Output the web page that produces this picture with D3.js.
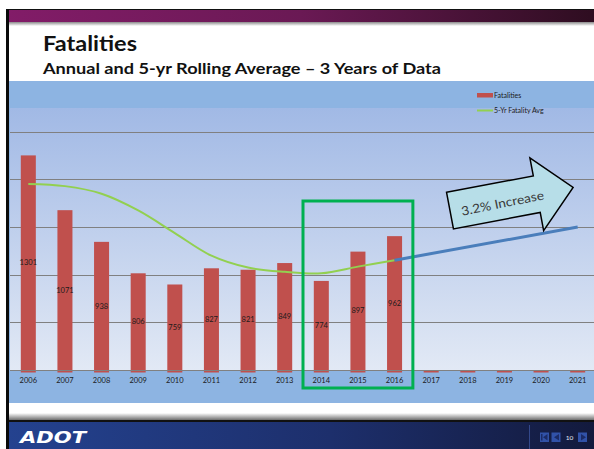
<!DOCTYPE html>
<html><head><meta charset="utf-8">
<script src="https://cdn.jsdelivr.net/npm/d3@7/dist/d3.min.js"></script>
<style>html,body{margin:0;padding:0;background:#fff;}svg{display:block;}</style>
</head><body>
<script>
const years = ['2006','2007','2008','2009','2010','2011','2012','2013','2014','2015','2016','2017','2018','2019','2020','2021'];
const fatalities = [1301,1071,938,806,759,827,821,849,774,897,962,0,0,0,0,0];
const avgYears = ['2006','2007','2008','2009','2010','2011','2012','2013','2014','2015','2016'];
const rollingAvg = [1181,1172,1140,1070,975,880,830,812,806,834,861];
const trendYears = ['2016','2021'];
const trendValues = [861,1000];
const yTicks = [600,800,1000,1200,1400];
const highlightYears = ['2014','2016'];
const legendLabels = ['Fatalities','5-Yr Fatality Avg'];
const titleText = 'Fatalities';
const subtitleText = 'Annual and 5-yr Rolling Average \u2013 3 Years of Data';
const arrowText = '3.2% Increase';

const W = 594, H = 449;
const svg = d3.select('body').append('svg').attr('width', W).attr('height', H);
const defs = svg.append('defs');

function lg(id, x1, y1, x2, y2, stops){
  const g = defs.append('linearGradient').attr('id', id)
    .attr('x1', x1).attr('y1', y1).attr('x2', x2).attr('y2', y2);
  stops.forEach(s => g.append('stop').attr('offset', s[0]).attr('stop-color', s[1]));
}
lg('purple','0','0','1','0',[[0,'#821c68'],[0.5,'#6a1954'],[1,'#2e0d20']]);
lg('topShadow','0','0','0','1',[[0,'#8a8a8a'],[1,'#ffffff']]);
lg('plotGrad','0','0','0','1',[[0,'#a1b9e5'],[1,'#e2e9f5']]);
lg('botShadow','0','0','0','1',[[0,'#ffffff'],[1,'#6e6e6e']]);
lg('footer','0','0','1','0',[[0,'#24428f'],[0.55,'#1d2f6c'],[1,'#131a3d']]);

// Slide frame
svg.append('rect').attr('x',6).attr('y',9).attr('width',W-6).attr('height',1.5).attr('fill','#111');
svg.append('rect').attr('x',8).attr('y',10).attr('width',W-8).attr('height',12).attr('fill','url(#purple)');
svg.append('rect').attr('x',8).attr('y',22).attr('width',W-8).attr('height',4).attr('fill','url(#topShadow)');
svg.append('rect').attr('x',9).attr('y',413).attr('width',W-9).attr('height',7).attr('fill','url(#botShadow)');
svg.append('rect').attr('x',6).attr('y',420).attr('width',W-6).attr('height',2).attr('fill','#111');
svg.append('rect').attr('x',8).attr('y',422).attr('width',W-8).attr('height',H-422).attr('fill','url(#footer)');
svg.append('rect').attr('x',6).attr('y',9).attr('width',3).attr('height',H-9).attr('fill','#0a0a0a');

// Titles
svg.append('text').attr('x',43).attr('y',51).text(titleText)
  .attr('font-family','Lato, "Open Sans", sans-serif').attr('font-weight','bold')
  .attr('font-size',20.5).attr('fill','#111').attr('textLength',94).attr('lengthAdjust','spacingAndGlyphs');
svg.append('text').attr('x',43).attr('y',74).text(subtitleText)
  .attr('font-family','Lato, "Open Sans", sans-serif').attr('font-weight','bold')
  .attr('font-size',15).attr('fill','#111').attr('textLength',398).attr('lengthAdjust','spacingAndGlyphs');

// Chart area
svg.append('rect').attr('x',9).attr('y',81).attr('width',W-9).attr('height',322).attr('fill','#8db4e2');

const plotTop = 108, plotBottom = 370;
const x = d3.scaleBand().domain(years).range([10,596]).paddingInner(0.59).paddingOuter(0.295);
const y = d3.scaleLinear().domain([400,1500]).range([plotBottom, plotTop]).clamp(true);
const cx = d => x(d) + x.bandwidth()/2;

svg.append('rect').attr('x',10).attr('y',plotTop).attr('width',W-10).attr('height',plotBottom-plotTop).attr('fill','url(#plotGrad)');

// gridlines
svg.append('g').selectAll('line').data(yTicks).join('line')
  .attr('x1',10).attr('x2',W).attr('y1',d=>Math.round(y(d))+0.5).attr('y2',d=>Math.round(y(d))+0.5)
  .attr('stroke','#808080').attr('stroke-width',1.1);

// bars
svg.append('g').selectAll('rect').data(years.map((yr,i)=>({yr,v:fatalities[i]}))).join('rect')
  .attr('x',d=>x(d.yr)).attr('width',x.bandwidth())
  .attr('y',d=>y(d.v)).attr('height',d=>y(400)-y(d.v)+2.5)
  .attr('fill','#c0504d');

// axis line
svg.append('line').attr('x1',10).attr('x2',W).attr('y1',370.5).attr('y2',370.5).attr('stroke','#808080').attr('stroke-width',1.1);

// data labels
svg.append('g').selectAll('text').data(years.map((yr,i)=>({yr,v:fatalities[i]})).filter(d=>d.v>0)).join('text')
  .attr('x',d=>cx(d.yr)).attr('y',d=>(y(d.v)+y(400))/2).attr('dy','0.35em')
  .attr('text-anchor','middle').attr('font-family','Lato, "Open Sans", sans-serif')
  .attr('font-size',7.5).attr('fill','#1a1a1a').text(d=>d.v);

// x axis labels
const xAxis = d3.axisBottom(x).tickSize(0).tickPadding(0);
const gx = svg.append('g').attr('transform','translate(0,377.5)').call(xAxis);
gx.select('.domain').remove();
gx.selectAll('text').attr('font-family','Lato, "Open Sans", sans-serif').attr('font-size',7.5).attr('fill','#1a1a1a').attr('dy','0.71em');

// rolling average line
const line = d3.line().x(d=>cx(d.yr)).y(d=>y(d.v)).curve(d3.curveCatmullRom.alpha(0.5));
svg.append('path').datum(avgYears.map((yr,i)=>({yr,v:rollingAvg[i]})))
  .attr('d',line).attr('fill','none').attr('stroke','#92d050').attr('stroke-width',2);

// trend line
const tline = d3.line().x(d=>cx(d.yr)).y(d=>y(d.v));
svg.append('path').datum(trendYears.map((yr,i)=>({yr,v:trendValues[i]})))
  .attr('d',tline).attr('fill','none').attr('stroke','#4a7ebb').attr('stroke-width',3);

// legend
svg.append('rect').attr('x',477).attr('y',93).attr('width',16).attr('height',4.5).attr('fill','#c0504d');
svg.append('line').attr('x1',477).attr('x2',493).attr('y1',110.5).attr('y2',110.5).attr('stroke','#92d050').attr('stroke-width',2);
svg.append('g').selectAll('text').data(legendLabels).join('text')
  .attr('x',494).attr('y',(d,i)=>95.5+i*15).attr('dy','0.35em')
  .attr('font-family','Lato, "Open Sans", sans-serif').attr('font-size',7).attr('fill','#1a1a1a').text(d=>d);

// highlight box
const bx0 = x(highlightYears[0]) - (x.step()-x.bandwidth())/2;
const bx1 = x(highlightYears[1]) + x.bandwidth() + (x.step()-x.bandwidth())/2;
svg.append('rect').attr('x',bx0).attr('y',201).attr('width',bx1-bx0).attr('height',187)
  .attr('fill','none').attr('stroke','#00b050').attr('stroke-width',3);

// block arrow annotation
const ag = svg.append('g').attr('transform','translate(450,210.6) rotate(-10.7)');
const arrowPts = [[0,-18.6],[88.3,-18.6],[88.3,-37],[125.3,0],[88.3,37],[88.3,18.6],[0,18.6]];
ag.append('polygon').attr('points',arrowPts.map(p=>p.join(',')).join(' '))
  .attr('fill','#b7dee8').attr('stroke','#000').attr('stroke-width',1.5).attr('stroke-linejoin','miter');
ag.append('text').attr('x',53).attr('y',2.5).attr('dy','0.35em').attr('text-anchor','middle')
  .attr('transform','rotate(-0.6,53,2.5)')
  .attr('font-family','Lato, "Open Sans", sans-serif').attr('font-size',12.5).attr('fill','#3a3a3a')
  .attr('textLength',84).attr('lengthAdjust','spacingAndGlyphs').text(arrowText);

// footer logo
svg.append('text').attr('x',20).attr('y',443).text('ADOT')
  .attr('font-family','"DejaVu Sans", sans-serif').attr('font-weight','bold').attr('font-style','italic')
  .attr('font-size',15).attr('fill','#ffffff').attr('textLength',66).attr('lengthAdjust','spacingAndGlyphs');

// page nav
svg.append('line').attr('x1',529.5).attr('x2',529.5).attr('y1',425).attr('y2',H).attr('stroke','#33488a').attr('stroke-width',1);
const btns = [540,551.5,578];
svg.append('g').selectAll('rect').data(btns).join('rect')
  .attr('x',d=>d).attr('y',432.5).attr('width',9).attr('height',9.5).attr('fill','#3152a8');
svg.append('rect').attr('x',541).attr('y',434).attr('width',1.5).attr('height',6.5).attr('fill','#1b2b66');
svg.append('polygon').attr('points','547.5,434 547.5,440.5 543,437.25').attr('fill','#1b2b66');
svg.append('polygon').attr('points','559,434 559,440.5 554,437.25').attr('fill','#1b2b66');
svg.append('polygon').attr('points','581,434 581,440.5 586,437.25').attr('fill','#1b2b66');
svg.append('text').attr('x',569.5).attr('y',437.5).attr('dy','0.35em').attr('text-anchor','middle')
  .attr('font-family','Lato, sans-serif').attr('font-size',6.5).attr('fill','#e8ecf5').text('10');
</script>
</body></html>
